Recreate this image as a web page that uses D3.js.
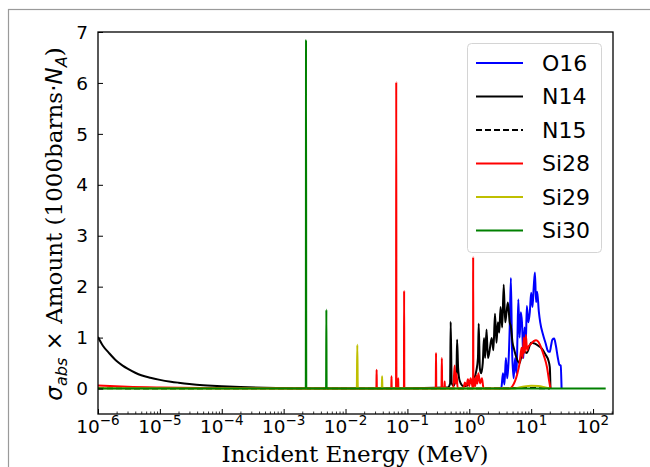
<!DOCTYPE html>
<html>
<head>
<meta charset="utf-8">
<script src="https://cdn.jsdelivr.net/npm/d3@7"></script>
<style>
  body { margin: 0; background: #fff; }
  svg { display: block; }
</style>
</head>
<body>
<svg id="chart" width="650" height="467"></svg>
<script>
// series, in plotting order
const seriesNames = ["O16", "N14", "N15", "Si28", "Si29", "Si30"];
const seriesColors = ["#0000ff", "#000000", "#000000", "#ff0000", "#bfbf00", "#008000"];

// [energy MeV, sigma x amount]
const o16 = [
  [3.0, 0], [3.3, 0.02], [3.5, 0.3], [3.7, 0.08], [3.9, 0.6], [4.1, 0.2], [4.3, 0.5],
  [4.5, 1.2], [4.7, 2.17], [4.9, 0.8], [5.2, 0.2], [5.5, 0.6], [5.8, 0.3], [6.0, 1.0],
  [6.2, 1.75], [6.5, 1.0], [6.8, 1.5], [7.1, 1.3], [7.5, 0.6], [7.8, 1.2], [8.2, 0.9],
  [8.5, 1.62], [9.0, 1.3], [9.5, 1.5], [10, 1.88], [10.5, 1.6], [11, 2.0], [11.5, 2.28],
  [12, 1.7], [12.5, 1.9], [13.3, 1.51], [14, 1.3], [15.6, 1.05], [17, 0.9], [18.8, 0.73],
  [20, 0.72], [21, 0.85], [22, 0.96], [23.5, 0.98], [25, 0.85], [27, 0.6], [28.5, 0.47],
  [30, 0.45], [31, 0.0]
];
const n14 = [
  [1e-6, 1.01], [1.2e-6, 0.84], [1.5e-6, 0.7], [2e-6, 0.54], [2.5e-6, 0.45], [3e-6, 0.39],
  [4e-6, 0.31], [5e-6, 0.26], [7e-6, 0.21], [1e-5, 0.17], [1.5e-5, 0.135], [2e-5, 0.115],
  [3e-5, 0.09], [5e-5, 0.065], [7e-5, 0.053], [1e-4, 0.043], [2e-4, 0.028], [5e-4, 0.016],
  [1e-3, 0.01], [2.3e-3, 0.005], [0.03, 0.002], [0.45, 0.02], [0.49, 0.1], [0.5, 1.31],
  [0.52, 0.1], [0.56, 0.05], [0.62, 0.3], [0.635, 0.96], [0.66, 0.4], [0.7, 0.15],
  [0.8, 0.05], [0.9, 0.05], [1.0, 0.1], [1.1, 0.15], [1.2, 0.2], [1.3, 0.35], [1.38, 0.6],
  [1.42, 1.27], [1.48, 0.4], [1.55, 0.3], [1.65, 0.5], [1.73, 0.99], [1.8, 0.6], [1.9, 1.16],
  [2.0, 0.6], [2.1, 0.7], [2.3, 0.99], [2.45, 0.75], [2.6, 1.47], [2.75, 0.9], [2.9, 1.3],
  [3.05, 1.1], [3.2, 1.6], [3.4, 1.2], [3.6, 2.04], [3.8, 1.3], [4.0, 1.5], [4.2, 1.69],
  [4.5, 1.3], [4.7, 1.22], [5.0, 0.9], [5.3, 0.77], [5.8, 0.6], [6.5, 0.5], [7.0, 0.65],
  [7.8, 0.72], [8.5, 0.7], [10, 0.9], [11.5, 0.88], [13, 0.84], [15, 0.78], [17, 0.67],
  [19, 0.55], [20, 0.42], [20.5, 0.0]
];
const n15 = [
  [1e-6, 0.004], [1e-4, 0.001], [1, 0.002], [10, 0.01], [20, 0.0]
];
const si28 = [
  [1e-6, 0.06], [3e-6, 0.035], [1e-5, 0.02], [1e-4, 0.006], [1e-3, 0.002], [0.0315, 0],
  [0.0318, 0.37], [0.0321, 0], [0.0548, 0], [0.0553, 0.24], [0.0558, 0], [0.0655, 0],
  [0.066, 6.02], [0.0665, 0], [0.0705, 0], [0.071, 0.2], [0.0715, 0], [0.0878, 0],
  [0.0885, 1.92], [0.0892, 0], [0.287, 0], [0.29, 0.7], [0.293, 0], [0.355, 0], [0.36, 0.6],
  [0.365, 0], [0.395, 0], [0.4, 0.14], [0.405, 0], [0.55, 0], [0.58, 0.45], [0.6, 0.1],
  [0.62, 0.3], [0.65, 0], [0.8, 0], [0.85, 0.12], [0.9, 0.05], [0.95, 0.18], [1.0, 0.05],
  [1.05, 0.2], [1.1, 0.1], [1.15, 0], [1.155, 2.58], [1.165, 0], [1.2, 0.2], [1.25, 0.05],
  [1.3, 0.25], [1.35, 0.1], [1.4, 0.3], [1.5, 0.1], [1.6, 0.2], [1.7, 0], [4.5, 0],
  [5, 0.05], [5.5, 0.15], [6, 0.3], [6.5, 0.5], [7, 0.8], [7.3, 0.6], [7.6, 1.0], [7.9, 0.7],
  [8.2, 1.05], [8.6, 0.75], [9, 0.82], [10, 0.88], [11, 0.93], [12, 0.95], [13, 0.92],
  [14.5, 0.8], [16, 0.65], [18, 0.42], [19.5, 0.15], [20.5, 0.0]
];
const si29 = [
  [1e-6, 0.005], [1e-3, 0.0], [0.0152, 0], [0.0155, 0.86], [0.0158, 0], [0.0385, 0],
  [0.039, 0.24], [0.0395, 0], [5, 0], [7, 0.03], [10, 0.055], [13, 0.05], [17, 0.02], [20, 0]
];
const si30 = [
  [1e-6, 0], [2.28e-3, 0], [2.3e-3, 6.85], [2.32e-3, 0], [4.85e-3, 0], [4.9e-3, 1.55],
  [4.95e-3, 0], [160, 0]
];
const seriesData = [o16, n14, n15, si28, si29, si30];

const yTicks = [0, 1, 2, 3, 4, 5, 6, 7];
const xTickExps = [-6, -5, -4, -3, -2, -1, 0, 1, 2];

const svg = d3.select("#chart");
const margin = { left: 98, right: 613, top: 32, bottom: 414 };

// figure border
svg.append("rect")
  .attr("x", 8.5).attr("y", 9.5)
  .attr("width", 700).attr("height", 600)
  .attr("fill", "none").attr("stroke", "#9a9a9a").attr("stroke-width", 1.2);

const x = d3.scaleLog().domain([1e-6, 210]).range([margin.left, margin.right]);
const y = d3.scaleLinear().domain([-0.5, 7]).range([margin.bottom, margin.top]);

svg.append("clipPath").attr("id", "plot-clip")
  .append("rect")
  .attr("x", margin.left).attr("y", margin.top)
  .attr("width", margin.right - margin.left)
  .attr("height", margin.bottom - margin.top);

// lines
const line = d3.line().x(d => x(d[0])).y(d => y(d[1])).curve(d3.curveMonotoneX);
const plot = svg.append("g").attr("clip-path", "url(#plot-clip)");
seriesData.forEach((data, i) => {
  plot.append("path")
    .datum(data)
    .attr("d", line)
    .attr("fill", "none")
    .attr("stroke", seriesColors[i])
    .attr("stroke-width", 2)
    .attr("stroke-linejoin", "round")
    .attr("stroke-dasharray", seriesNames[i] === "N15" ? "6,3" : null);
});

// x ticks (inward)
const minorTicks = x.ticks().filter(t => Math.abs(Math.log10(t) - Math.round(Math.log10(t))) > 1e-6);
svg.append("g")
  .attr("transform", `translate(0,${margin.bottom})`)
  .call(d3.axisBottom(x).tickValues(minorTicks).tickSize(-2.5).tickFormat(""))
  .call(g => g.select(".domain").remove())
  .selectAll("line").attr("stroke", "#000").attr("stroke-width", 0.8);
svg.append("g")
  .attr("transform", `translate(0,${margin.bottom})`)
  .call(d3.axisBottom(x).tickValues(xTickExps.map(e => Math.pow(10, e))).tickSize(-5).tickFormat(""))
  .call(g => g.select(".domain").remove())
  .selectAll("line").attr("stroke", "#000").attr("stroke-width", 1);

// y ticks (inward)
svg.append("g")
  .attr("transform", `translate(${margin.left},0)`)
  .call(d3.axisLeft(y).tickValues(yTicks).tickSize(-5).tickFormat(""))
  .call(g => g.select(".domain").remove())
  .selectAll("line").attr("stroke", "#000").attr("stroke-width", 1);

// frame
svg.append("rect")
  .attr("x", margin.left).attr("y", margin.top)
  .attr("width", margin.right - margin.left)
  .attr("height", margin.bottom - margin.top)
  .attr("fill", "none").attr("stroke", "#000").attr("stroke-width", 1.3);

// x tick labels 10^n
xTickExps.forEach(e => {
  const t = svg.append("text")
    .attr("x", x(Math.pow(10, e)))
    .attr("y", 433)
    .attr("text-anchor", "middle")
    .attr("font-family", "DejaVu Sans")
    .attr("font-size", 18.5)
    .attr("fill", "#000");
  t.append("tspan").text("10");
  t.append("tspan").attr("dy", -8).attr("font-size", 13.5)
    .text(e < 0 ? "\u2212" + (-e) : String(e));
});

// y tick labels
svg.append("g").selectAll("text")
  .data(yTicks)
  .join("text")
  .attr("x", 88)
  .attr("y", d => y(d))
  .attr("dy", "0.36em")
  .attr("text-anchor", "end")
  .attr("font-family", "DejaVu Sans")
  .attr("font-size", 18.5)
  .attr("fill", "#000")
  .text(d => d);

// x label
svg.append("text")
  .attr("x", 355).attr("y", 462)
  .attr("text-anchor", "middle")
  .attr("font-family", "DejaVu Serif")
  .attr("font-size", 23)
  .attr("fill", "#000")
  .text("Incident Energy (MeV)");

// y label
const yl = svg.append("text")
  .attr("transform", "translate(62,224) rotate(-90)")
  .attr("text-anchor", "middle")
  .attr("font-size", 23)
  .attr("fill", "#000");
yl.append("tspan").attr("font-family", "DejaVu Sans").attr("font-style", "italic").text("\u03c3");
yl.append("tspan").attr("font-family", "DejaVu Sans").attr("font-style", "italic")
  .attr("font-size", 16).attr("dy", 5).text("abs");
yl.append("tspan").attr("font-family", "DejaVu Sans").attr("dy", -5).text(" \u00d7 ");
yl.append("tspan").attr("font-family", "DejaVu Serif").text("Amount (1000barns");
yl.append("tspan").attr("font-family", "DejaVu Sans").text("\u00b7");
yl.append("tspan").attr("font-family", "DejaVu Sans").attr("font-style", "italic").text("N");
yl.append("tspan").attr("font-family", "DejaVu Sans").attr("font-style", "italic")
  .attr("font-size", 16).attr("dy", 5).text("A");
yl.append("tspan").attr("font-family", "DejaVu Serif").attr("dy", -5).text(")");

// legend
const legend = svg.append("g");
legend.append("rect")
  .attr("x", 467.5).attr("y", 43.5)
  .attr("width", 134).attr("height", 209)
  .attr("rx", 4)
  .attr("fill", "#fff").attr("fill-opacity", 0.8)
  .attr("stroke", "#d4d4d4").attr("stroke-width", 1);
seriesNames.forEach((name, i) => {
  const cy = 63 + i * 33.5;
  legend.append("line")
    .attr("x1", 476).attr("x2", 523)
    .attr("y1", cy).attr("y2", cy)
    .attr("stroke", seriesColors[i])
    .attr("stroke-width", 2)
    .attr("stroke-dasharray", name === "N15" ? "6,3" : null);
  legend.append("text")
    .attr("x", 542).attr("y", cy)
    .attr("dy", "0.36em")
    .attr("font-family", "DejaVu Sans")
    .attr("font-size", 22)
    .attr("fill", "#000")
    .text(name);
});
</script>
</body>
</html>
